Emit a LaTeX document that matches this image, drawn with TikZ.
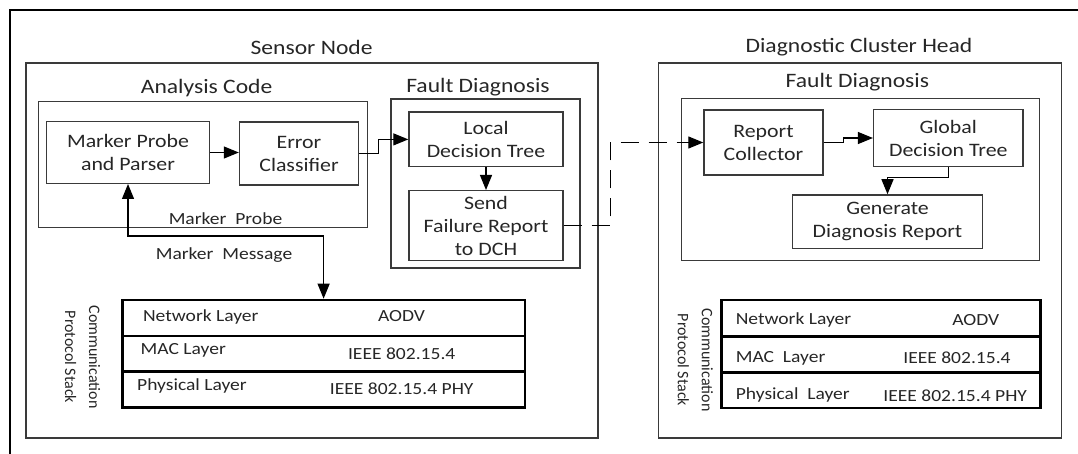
\documentclass[tikz,border=0pt]{standalone}
\usepackage{fontspec}
\setmainfont{Carlito}[FakeStretch=1.15]
\newfontfamily\vfont{Carlito}
\usetikzlibrary{arrows.meta}
\definecolor{boxc}{HTML}{3A3A3A}
\definecolor{txt}{HTML}{262626}
\tikzset{
  frame/.style={draw=boxc, line width=1.4pt, inner sep=0pt},
  box/.style={draw=boxc, line width=1.4pt, inner sep=0pt, align=center, text=txt,
    font=\fontsize{19}{23}\selectfont},
  stackbox/.style={draw=black, line width=2.6pt, inner sep=0pt},
  title/.style={text=txt, font=\fontsize{20.5}{24}\selectfont},
  lbl/.style={text=txt, font=\fontsize{17}{20}\selectfont},
  stk/.style={text=txt, font=\fontsize{17}{20}\selectfont, inner sep=0pt},
  vtxt/.style={text=txt, font=\vfont\fontsize{16}{24}\selectfont, align=center, rotate=-90},
  tip/.style={-{Triangle[length=15pt,width=12pt]}},
  conn/.style={draw=black, line width=1.2pt, tip},
  dconn/.style={conn, dash pattern=on 18pt off 10pt}
}
\begin{document}
\begin{tikzpicture}[x=1pt,y=-1pt]
\useasboundingbox (0,0) rectangle (1078,454);
% outer frame (left and top edges)
\coordinate (oTL) at (10,10);
\coordinate (oTR) at (1078,10);
\coordinate (oBL) at (10,454);
\draw[line width=2.6pt] (oTR) -- (oTL) -- (oBL);

% containers
\node[frame, minimum width=572, minimum height=375] (sn) at (312,250.5) {};
\node[frame, minimum width=403, minimum height=375] (dch) at (860,250.5) {};
\node[frame, minimum width=329, minimum height=126] (ac) at (203.2,164.6) {};
\node[frame, minimum width=189, minimum height=169] (fds) at (485.4,183.5) {};
\node[frame, minimum width=358, minimum height=162] (fdd) at (860.3,179.3) {};

% titles
\node[title] (tsn) at (311.6,47) {Sensor Node};
\node[title] (tdch) at (859,47) {Diagnostic Cluster Head};
\node[title] (tac) at (206.6,88) {Analysis Code};
\node[title] (tfds) at (478,87) {Fault Diagnosis};
\node[title] (tfdd) at (857.4,82) {Fault Diagnosis};

% process boxes
\node[box, minimum width=163, minimum height=61.6] (mpp) at (128,152.5) {Marker Probe\\and Parser};
\node[box, minimum width=119, minimum height=63] (ec) at (299,153.5) {Error\\Classifier};
\node[box, minimum width=154, minimum height=54.7] (ldt) at (486,139.4) {Local\\Decision Tree};
\node[box, minimum width=154, minimum height=69.6] (sfr) at (486,225.5) {Send\\Failure Report\\to DCH};
\node[box, minimum width=119, minimum height=65] (rc) at (763.5,142.5) {Report\\Collector};
\node[box, minimum width=149.4, minimum height=57.4] (gdt) at (948.3,138) {Global\\Decision Tree};
\node[box, minimum width=190.5, minimum height=53.3] (gdr) at (887.5,221.6) {Generate\\Diagnosis Report};

% labels
\node[lbl] (lmp) at (225.5,219) {Marker\ \ Probe};
\node[lbl] (lmm) at (224,255) {Marker\ \ Message};

% protocol stacks
\node[stackbox, minimum width=402.8, minimum height=107.5] (sts) at (323.6,353.75) {};
\coordinate (s1l) at (122.2,336); \coordinate (s1r) at (525,336);
\coordinate (s2l) at (122.2,371.5); \coordinate (s2r) at (525,371.5);
\draw[line width=2.6pt] (s1l) -- (s1r);
\draw[line width=2.6pt] (s2l) -- (s2r);
\node[stk, anchor=west] (sn1) at (142.9,317) {Network Layer};
\node[stk] (sv1) at (401.5,316) {AODV};
\node[stk, anchor=west] (sn2) at (140.5,350) {MAC Layer};
\node[stk] (sv2) at (401.7,354) {IEEE 802.15.4};
\node[stk, anchor=west] (sn3) at (137,386) {Physical Layer};
\node[stk] (sv3) at (401.7,389) {IEEE 802.15.4 PHY};
\node[vtxt] (vs) at (82.7,357) {Communication\\Protocol Stack};

\node[stackbox, minimum width=319, minimum height=108] (std) at (880.75,354) {};
\coordinate (d1l) at (721.2,336.7); \coordinate (d1r) at (1040.3,336.7);
\coordinate (d2l) at (721.2,372.7); \coordinate (d2r) at (1040.3,372.7);
\draw[line width=2.6pt] (d1l) -- (d1r);
\draw[line width=2.6pt] (d2l) -- (d2r);
\node[stk, anchor=west] (dn1) at (735.6,320) {Network Layer};
\node[stk] (dv1) at (975.8,320) {AODV};
\node[stk, anchor=west] (dn2) at (735.6,358) {MAC\ \ Layer};
\node[stk] (dv2) at (957,358) {IEEE 802.15.4};
\node[stk, anchor=west] (dn3) at (735.6,395) {Physical\ \ Layer};
\node[stk] (dv3) at (955.2,396) {IEEE 802.15.4 PHY};
\node[vtxt] (vd) at (695.3,360) {Communication\\Protocol Stack};

% connectors
\draw[conn] (mpp.east) -- (mpp.east -| ec.west);
\draw[conn] (ec.east) -- ++(19,0) |- (ldt.west);
\draw[conn] (ldt.south) -- (sfr.north);
\draw[dconn] (sfr.east) -- ++(47,0) |- (rc.west);
\draw[conn] (rc.east) -- ++(20,0) |- (gdt.west);
\draw[conn] (gdt.south) -- ++(0,10.5) -| (gdr.north);
\coordinate (mm) at (323.6,236);
\draw[conn, {Triangle[length=15pt,width=12pt]}-{Triangle[length=15pt,width=12pt]}] (mpp.south) |- (mm) -- (mm |- sts.north);
\end{tikzpicture}
\end{document}
